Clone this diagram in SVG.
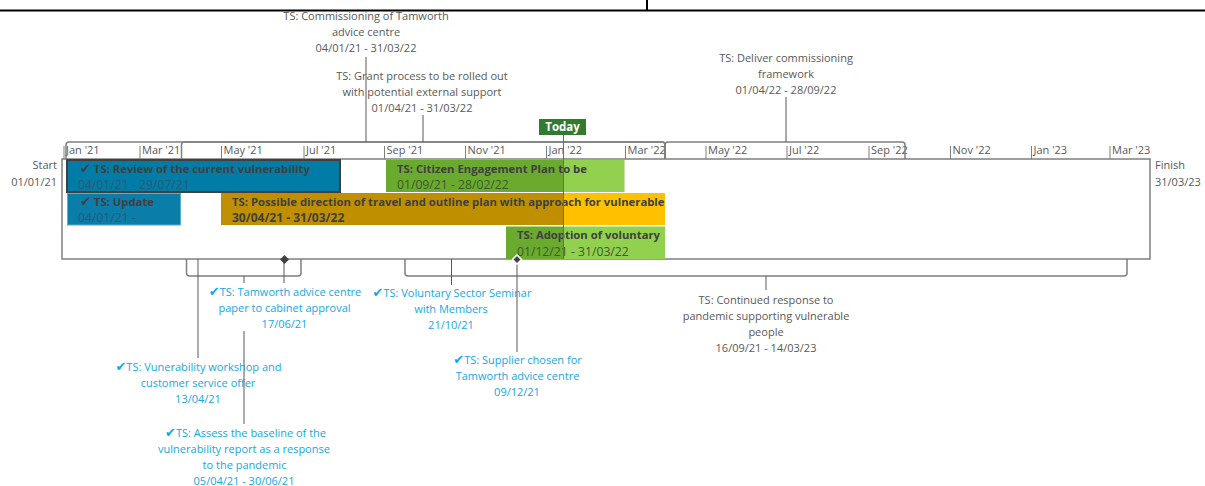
<svg xmlns="http://www.w3.org/2000/svg" width="1205" height="486" viewBox="0 0 1205 486">
<style>
text{font-family:"Open Sans","Noto Sans","DejaVu Sans",sans-serif;}
.lbl{font-size:11px;fill:#595959;text-anchor:middle;}
.ms{font-size:11px;fill:#12A8E6;text-anchor:middle;}
.mon{font-size:11px;fill:#595959;}
.bt{font-size:11.3px;font-weight:bold;fill:#404040;}
.bd{font-size:12.2px;fill:#2B5A73;}
.gd{font-size:12.2px;fill:#3D5A2A;}
.ck{font-family:"DejaVu Sans",sans-serif;font-size:13px;}
.ln{stroke:#595959;stroke-width:1;fill:none;}
.fr{stroke:#7F7F7F;stroke-width:1.5;fill:none;}
.tick{stroke:#7F7F7F;stroke-width:1;}
</style>
<defs>
<path id="dia" d="M0,-4.5 L4.5,0 L0,4.5 L-4.5,0 Z"/>
</defs>

<!-- top frame line -->
<g id="topframe">
<line x1="0" y1="10.5" x2="1205" y2="10.5" stroke="#000" stroke-width="2"/>
<line x1="647" y1="0" x2="647" y2="10" stroke="#000" stroke-width="2"/>
</g>

<!-- timeline box and scale -->
<g id="timeline">
<rect x="62" y="159" width="1088" height="100" fill="#fff" class="fr"/>
<g class="tick">
<line x1="64" y1="146" x2="64" y2="159"/>
<line x1="140" y1="146" x2="140" y2="159"/>
<line x1="221.5" y1="146" x2="221.5" y2="159"/>
<line x1="304" y1="146" x2="304" y2="159"/>
<line x1="384.5" y1="146" x2="384.5" y2="159"/>
<line x1="465.5" y1="146" x2="465.5" y2="159"/>
<line x1="546.5" y1="146" x2="546.5" y2="159"/>
<line x1="625.5" y1="146" x2="625.5" y2="159"/>
<line x1="706" y1="146" x2="706" y2="159"/>
<line x1="787" y1="146" x2="787" y2="159"/>
<line x1="869" y1="146" x2="869" y2="159"/>
<line x1="950.5" y1="146" x2="950.5" y2="159"/>
<line x1="1031.5" y1="146" x2="1031.5" y2="159"/>
<line x1="1110" y1="146" x2="1110" y2="159"/>
</g>
<text class="mon" x="66" y="154">Jan '21</text>
<text class="mon" x="142" y="154">Mar '21</text>
<text class="mon" x="223.5" y="154">May '21</text>
<text class="mon" x="306" y="154">Jul '21</text>
<text class="mon" x="386.5" y="154">Sep '21</text>
<text class="mon" x="467.5" y="154">Nov '21</text>
<text class="mon" x="548.5" y="154">Jan '22</text>
<text class="mon" x="627.5" y="154">Mar '22</text>
<text class="mon" x="708" y="154">May '22</text>
<text class="mon" x="789" y="154">Jul '22</text>
<text class="mon" x="871" y="154">Sep '22</text>
<text class="mon" x="952.5" y="154">Nov '22</text>
<text class="mon" x="1033.5" y="154">Jan '23</text>
<text class="mon" x="1112" y="154">Mar '23</text>
<text class="mon" x="57" y="169" text-anchor="end">Start</text>
<text class="mon" x="57" y="186" text-anchor="end">01/01/21</text>
<text class="mon" x="1155" y="169">Finish</text>
<text class="mon" x="1155" y="186">31/03/23</text>
</g>

<!-- header brackets (summary tasks above) -->
<g id="brackets-top" class="fr">
<path d="M66,159 V145 Q66,142 69,142 H662 Q665,142 665,145 V159"/>
<path d="M181.5,159 V145 Q181.5,142 184.5,142 H662 Q665,142 665,145 V159"/>
<path d="M665,159 V145 Q665,142 668,142 H902 Q905,142 905,145 V159"/>
</g>

<!-- bars -->
<g id="bar-review">
<rect x="67" y="160" width="273" height="32" fill="#007CA6" stroke="#404040" stroke-width="2"/>
<text class="bt" x="80" y="173"><tspan class="ck">✔</tspan> TS: Review of the current vulnerability</text>
<text class="bd" x="78" y="189">04/01/21 - 29/07/21</text>
</g>
<g id="bar-citizen">
<rect x="386" y="160" width="177" height="32" fill="#6AAA2E"/>
<rect x="563" y="160" width="61.5" height="32" fill="#92D050"/>
<text class="bt" x="397" y="173">TS: Citizen Engagement Plan to be</text>
<text class="gd" x="397" y="189">01/09/21 - 28/02/22</text>
</g>
<g id="bar-update">
<rect x="67.5" y="193.5" width="113" height="31.5" fill="#0A7DA8" stroke="#5AAED0" stroke-width="1"/>
<text class="bt" x="80" y="206"><tspan class="ck">✔</tspan> TS: Update</text>
<text class="bd" x="78" y="222">04/01/21 -</text>
</g>
<g id="bar-direction">
<rect x="221" y="193" width="342" height="32" fill="#BF8F00"/>
<rect x="563" y="193" width="102" height="32" fill="#FFC000"/>
<text class="bt" x="232" y="206">TS: Possible direction of travel and outline plan with approach for vulnerable</text>
<text class="bt" x="232" y="222" style="font-size:12px">30/04/21 - 31/03/22</text>
</g>
<g id="bar-adoption">
<rect x="506" y="226.5" width="57" height="32.5" fill="#6AAA2E"/>
<rect x="563" y="226.5" width="102" height="32.5" fill="#92D050"/>
<text class="bt" x="517" y="239">TS: Adoption of voluntary</text>
<text class="gd" x="517" y="256">01/12/21 - 31/03/22</text>
</g>

<!-- today marker -->
<g id="today">
<line x1="563.5" y1="134" x2="563.5" y2="259" stroke="#3F8A36" stroke-width="1"/>
<rect x="539" y="119" width="47" height="16" fill="#317A2E"/>
<text x="562.5" y="131" text-anchor="middle" style="font-size:11.5px;font-weight:bold;fill:#fff">Today</text>
</g>

<!-- bottom brackets -->
<g id="brackets-bottom" class="fr">
<path d="M186.5,259 V273 Q186.5,276 189.5,276 H298 Q301,276 301,273 V259"/>
<path d="M405,259 V273 Q405,276 408,276 H1124 Q1127,276 1127,273 V259"/>
</g>

<!-- connectors -->
<g id="connectors" class="ln">
<line x1="366" y1="57" x2="366" y2="142"/>
<line x1="423" y1="115" x2="423" y2="142"/>
<line x1="786" y1="97" x2="786" y2="142"/>
<line x1="198" y1="259" x2="198" y2="358"/>
<line x1="244" y1="276" x2="244" y2="283"/>
<line x1="244" y1="331" x2="244" y2="424"/>
<line x1="284" y1="259" x2="284" y2="283"/>
<line x1="451.5" y1="259" x2="451.5" y2="285"/>
<line x1="517" y1="259" x2="517" y2="352"/>
<line x1="766" y1="276" x2="766" y2="290"/>
</g>

<!-- milestone diamonds -->
<g id="ms-diamonds">
<use href="#dia" x="284.5" y="259.5" fill="#404040"/>
<use href="#dia" x="517" y="259.5" fill="#404040" stroke="#fff" stroke-width="1.5"/>
</g>

<!-- labels above -->
<g id="lbl-commissioning">
<text class="lbl" x="366" y="20">TS: Commissioning of Tamworth</text>
<text class="lbl" x="366" y="36">advice centre</text>
<text class="lbl" x="366" y="52">04/01/21 - 31/03/22</text>
</g>
<g id="lbl-grant">
<text class="lbl" x="422" y="80">TS: Grant process to be rolled out</text>
<text class="lbl" x="422" y="96">with potential external support</text>
<text class="lbl" x="422" y="112">01/04/21 - 31/03/22</text>
</g>
<g id="lbl-deliver">
<text class="lbl" x="786" y="62">TS: Deliver commissioning</text>
<text class="lbl" x="786" y="78">framework</text>
<text class="lbl" x="786" y="94">01/04/22 - 28/09/22</text>
</g>

<!-- labels below -->
<g id="lbl-tamworth">
<text class="ms" x="285" y="296"><tspan class="ck">✔</tspan>TS: Tamworth advice centre</text>
<text class="ms" x="284.5" y="312">paper to cabinet approval</text>
<text class="ms" x="284.5" y="328">17/06/21</text>
</g>
<g id="lbl-voluntary">
<text class="ms" x="452" y="297"><tspan class="ck">✔</tspan>TS: Voluntary Sector Seminar</text>
<text class="ms" x="451" y="313">with Members</text>
<text class="ms" x="451" y="329">21/10/21</text>
</g>
<g id="lbl-workshop">
<text class="ms" x="198.5" y="371"><tspan class="ck">✔</tspan>TS: Vunerability workshop and</text>
<text class="ms" x="198" y="387">customer service offer</text>
<text class="ms" x="198" y="403">13/04/21</text>
</g>
<g id="lbl-supplier">
<text class="ms" x="517.5" y="364"><tspan class="ck">✔</tspan>TS: Supplier chosen for</text>
<text class="ms" x="517.5" y="380">Tamworth advice centre</text>
<text class="ms" x="517" y="396">09/12/21</text>
</g>
<g id="lbl-assess">
<text class="ms" x="245.5" y="437"><tspan class="ck">✔</tspan>TS: Assess the baseline of the</text>
<text class="ms" x="244" y="453">vulnerability report as a response</text>
<text class="ms" x="244.5" y="469">to the pandemic</text>
<text class="ms" x="244" y="485">05/04/21 - 30/06/21</text>
</g>
<g id="lbl-continued">
<text class="lbl" x="766" y="304">TS: Continued response to</text>
<text class="lbl" x="766" y="320">pandemic supporting vulnerable</text>
<text class="lbl" x="766" y="336">people</text>
<text class="lbl" x="766" y="352">16/09/21 - 14/03/23</text>
</g>
</svg>
